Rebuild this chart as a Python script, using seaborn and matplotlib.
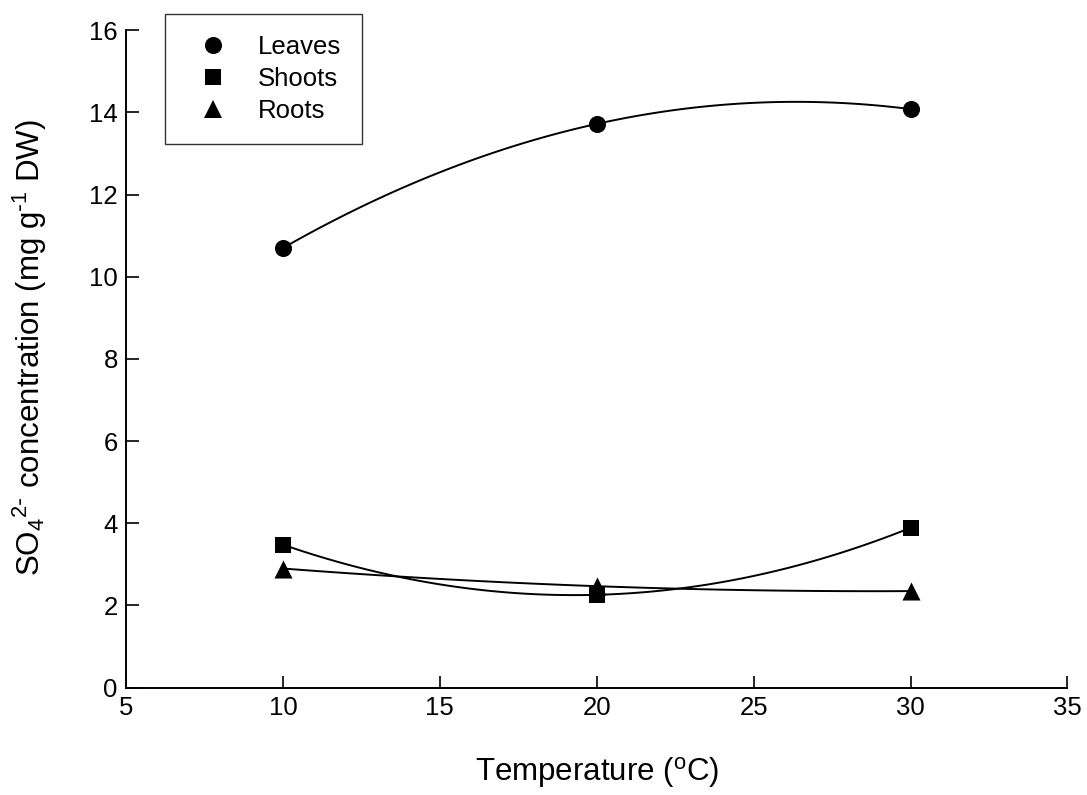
import numpy as np
import pandas as pd
import seaborn as sns
import matplotlib.pyplot as plt
from matplotlib.lines import Line2D

# valores
temperatura = [10, 20, 30]
leaves = [10.7, 13.72, 14.08]
shoots = [3.48, 2.26, 3.89]
roots = [2.9, 2.47, 2.35]

# nome: (valores, marcador, tamanho)
series = {"Leaves": (leaves, "o", 12.3),
          "Shoots": (shoots, "s", 11.2),
          "Roots": (roots, "^", 13.0)}

sns.set_style("ticks")
plt.rcParams["font.family"] = ["Liberation Sans", "DejaVu Sans"]
plt.rcParams["mathtext.default"] = "regular"
plt.rcParams["xtick.direction"] = "in"
plt.rcParams["ytick.direction"] = "in"
plt.rcParams["text.color"] = "black"
plt.rcParams["axes.labelcolor"] = "black"

fig = plt.figure(figsize=(10.87, 7.95), dpi=100)
ax = fig.add_axes([0.116, 0.135, 0.866, 0.827])

handles = []
for nome, (valores, marca, tam) in series.items():
    df = pd.DataFrame({"t": temperatura, "v": valores})
    # curva de ajuste polinomial de 2a ordem
    sns.regplot(data=df, x="t", y="v", order=2, ci=None, scatter=False, ax=ax,
                line_kws={"color": "black", "lw": 1.4})
    sns.scatterplot(data=df, x="t", y="v", marker=marca, s=tam ** 2, color="black",
                    edgecolor="black", linewidth=0, ax=ax, zorder=3)
    handles.append(Line2D([], [], ls="none", marker=marca, color="black",
                          markeredgewidth=0, markersize=tam, label=nome))

ax.set_xlim(5, 35)
ax.set_ylim(0, 16)
ax.set_xticks(np.arange(5, 36, 5))
ax.set_yticks(np.arange(0, 17, 2))
ax.tick_params(direction="in", length=9, width=1.2, labelsize=18.5, colors="black", pad=6)
for lado in ["left", "bottom"]:
    ax.spines[lado].set_linewidth(1.4)
    ax.spines[lado].set_color("black")
sns.despine(ax=ax)

ax.set_xlabel("Temperature ($^{o}$C)", fontsize=22.5, color="black")
ax.set_ylabel("SO$_4$$^{2\\text{-}}$ concentration (mg g$^{\\text{-}1}$ DW)", fontsize=22.5, color="black")
ax.xaxis.set_label_coords(0.5, -0.102)
ax.yaxis.set_label_coords(-0.082, 0.518)

leg = ax.legend(handles=handles, loc="upper left", bbox_to_anchor=(0.0414, 1.0243), fontsize=18.5,
                frameon=True, fancybox=False, edgecolor="black", borderpad=0.8,
                handletextpad=0.68, labelspacing=0.32, borderaxespad=0, handlelength=2.14)
leg.get_frame().set_linewidth(1.0)
for txt in leg.get_texts():
    txt.set_color("black")

fig.savefig("out.png", dpi=100)
